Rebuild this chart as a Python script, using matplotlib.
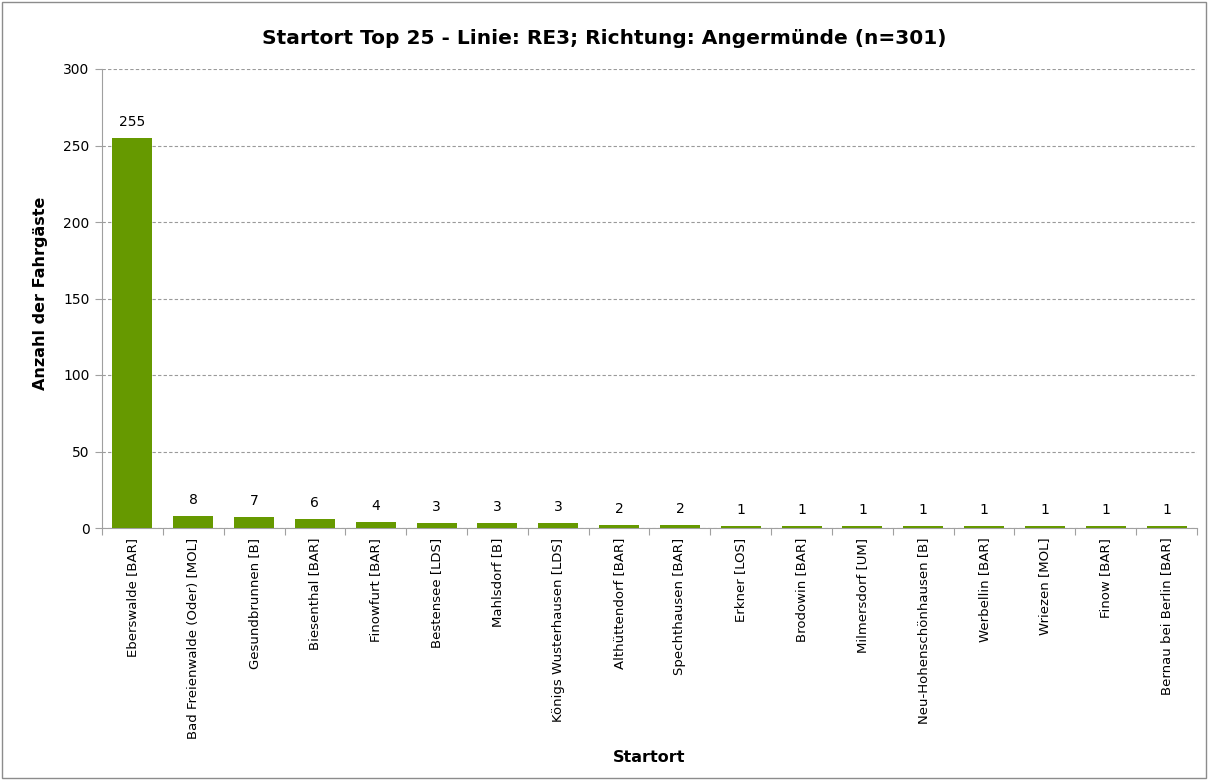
import numpy as np
import matplotlib.pyplot as plt
from matplotlib.patches import Rectangle

# Data
orte = ['Eberswalde [BAR]', 'Bad Freienwalde (Oder) [MOL]', 'Gesundbrunnen [B]',
        'Biesenthal [BAR]', 'Finowfurt [BAR]', 'Bestensee [LDS]', 'Mahlsdorf [B]',
        'Königs Wusterhausen [LDS]', 'Althüttendorf [BAR]', 'Spechthausen [BAR]',
        'Erkner [LOS]', 'Brodowin [BAR]', 'Milmersdorf [UM]', 'Neu-Hohenschönhausen [B]',
        'Werbellin [BAR]', 'Wriezen [MOL]', 'Finow [BAR]', 'Bernau bei Berlin [BAR]']
anzahl = [255, 8, 7, 6, 4, 3, 3, 3, 2, 2, 1, 1, 1, 1, 1, 1, 1, 1]
y_ticks = [0, 50, 100, 150, 200, 250, 300]

fig = plt.figure(figsize=(12.08, 7.8), dpi=100)
# plot area: x 102..1197 px, y 69..528 px
ax = fig.add_axes([102 / 1208, 1 - 528 / 780, 1095 / 1208, 459 / 780])

x = np.arange(len(orte))
ax.bar(x, anzahl, width=0.66, color='#669900', zorder=3)

for xi, v in zip(x, anzahl):
    ax.text(xi, v + 6, str(v), ha='center', va='bottom', fontsize=10, color='black')

ax.set_xlim(-0.5, len(orte) - 0.5)
ax.set_ylim(0, 300)
ax.set_yticks(y_ticks)
ax.tick_params(axis='y', labelsize=10, length=5, color='#a0a0a0', pad=4)
ax.yaxis.grid(True, linestyle=(0, (3, 2)), color='#9a9a9a', linewidth=0.8, zorder=0)

# Excel-style tick marks between categories
ax.set_xticks(np.arange(len(orte) + 1) - 0.5, minor=False)
ax.set_xticklabels([])
ax.tick_params(axis='x', length=5, color='#a0a0a0')
ax.set_xticks(x, minor=True)
ax.set_xticklabels(orte, minor=True, rotation=90, fontsize=9.5)
ax.tick_params(axis='x', which='minor', length=0, pad=7)

for side in ['top', 'right']:
    ax.spines[side].set_visible(False)
for side in ['left', 'bottom']:
    ax.spines[side].set_color('#a0a0a0')

fig.text(41 / 1208, 1 - 293 / 780, 'Anzahl der Fahrgäste', rotation=90,
         ha='center', va='center', fontsize=11.5, fontweight='bold')
fig.text(649 / 1208, 1 - 757 / 780, 'Startort', ha='center', va='center',
         fontsize=11.5, fontweight='bold')
fig.text(0.5, 1 - 38 / 780, 'Startort Top 25 - Linie: RE3; Richtung: Angermünde (n=301)',
         ha='center', va='center', fontsize=14.5, fontweight='bold')

fig.patches.append(Rectangle((0.002, 0.002), 0.996, 0.996, transform=fig.transFigure,
                             fill=False, edgecolor='#8c8c8c', linewidth=1))

fig.savefig('out.png', dpi=100)
